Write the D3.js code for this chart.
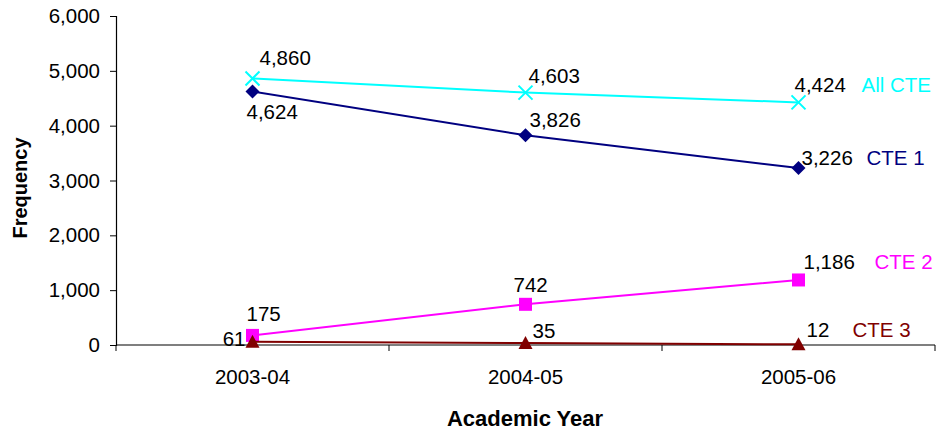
<!DOCTYPE html>
<html>
<head>
<meta charset="utf-8">
<script src="https://cdn.jsdelivr.net/npm/d3@7"></script>
<style>
  html, body { margin: 0; padding: 0; background: #fff; }
  svg { display: block; font-family: "Liberation Sans", Arial, sans-serif; }
</style>
</head>
<body>
<svg id="chart" width="937" height="432"></svg>
<script>
// Academic years on the x axis
const years = ["2003-04", "2004-05", "2005-06"];

// Frequency per year for each group
const allCte = [4860, 4603, 4424];
const cte1 = [4624, 3826, 3226];
const cte2 = [175, 742, 1186];
const cte3 = [61, 35, 12];

const seriesNames = ["All CTE", "CTE 1", "CTE 2", "CTE 3"];
const yTicks = [0, 1000, 2000, 3000, 4000, 5000, 6000];

const series = [
  { name: seriesNames[0], values: allCte, color: "#00FFFF", marker: "cross" },
  { name: seriesNames[1], values: cte1, color: "#000080", marker: "diamond" },
  { name: seriesNames[2], values: cte2, color: "#FF00FF", marker: "square" },
  { name: seriesNames[3], values: cte3, color: "#800000", marker: "triangle" }
];

// Placement of value labels around each point: [dx, dy, anchor]
const labelPlacement = {
  "All CTE": [[7, -13.5, "start"], [3, -10, "start"], [-4, -10, "start"]],
  "CTE 1":   [[-6, 27.5, "start"], [4, -8, "start"], [3, -3, "start"]],
  "CTE 2":   [[-6, -14, "start"], [-12, -12, "start"], [5, -11, "start"]],
  "CTE 3":   [[-7, 4.5, "end"], [7, -5, "start"], [8, -7, "start"]]
};
// Series name shown to the right of the final point: [dx, dy]
const namePlacement = {
  "All CTE": [63, -10],
  "CTE 1": [68, -3],
  "CTE 2": [76, -11],
  "CTE 3": [54, -7]
};

const svg = d3.select("#chart");
const plotLeft = 116, plotRight = 935, plotTop = 16, plotBottom = 345;

const x = d3.scaleBand().domain(years).range([plotLeft, plotRight]).padding(0);
const cx = d => x(d) + x.bandwidth() / 2;
const y = d3.scaleLinear().domain([0, 6000]).range([plotBottom, plotTop]);

const fmt = d3.format(",");

// Y axis
const yAxis = svg.append("g")
  .attr("transform", `translate(${plotLeft},0)`)
  .call(d3.axisLeft(y).tickValues(yTicks).tickFormat(fmt).tickSize(6).tickPadding(10));
yAxis.select(".domain").attr("stroke", "#000").attr("stroke-width", 1.2);
yAxis.selectAll(".tick line").attr("stroke", "#000");
yAxis.selectAll(".tick text").attr("font-size", 20.5).attr("fill", "#000")
  .attr("font-family", "Liberation Sans, Arial, sans-serif");

// X axis line at zero with tick marks at category boundaries
const xAxisG = svg.append("g");
xAxisG.append("line")
  .attr("x1", plotLeft).attr("x2", plotRight)
  .attr("y1", y(0)).attr("y2", y(0))
  .attr("stroke", "#000").attr("stroke-width", 1.2);
const boundaries = years.map(d => x(d)).concat([x(years[years.length - 1]) + x.bandwidth()]);
xAxisG.selectAll("line.xt").data(boundaries).enter().append("line")
  .attr("class", "xt")
  .attr("x1", d => d).attr("x2", d => d)
  .attr("y1", y(0)).attr("y2", y(0) + 6)
  .attr("stroke", "#000");
xAxisG.selectAll("text").data(years).enter().append("text")
  .attr("x", d => cx(d))
  .attr("y", 384)
  .attr("text-anchor", "middle")
  .attr("font-size", 20.5)
  .text(d => d);

// Axis titles
svg.append("text")
  .attr("x", 525).attr("y", 426)
  .attr("text-anchor", "middle")
  .attr("font-size", 22).attr("font-weight", "bold")
  .text("Academic Year");
svg.append("text")
  .attr("transform", "translate(27,188) rotate(-90)")
  .attr("text-anchor", "middle")
  .attr("font-size", 20).attr("font-weight", "bold")
  .text("Frequency");

const line = d3.line().x((v, i) => cx(years[i])).y(v => y(v));

function drawMarker(g, type, color) {
  if (type === "cross") {
    g.append("path").attr("d", "M-7,-7L7,7M-7,7L7,-7")
      .attr("stroke", color).attr("stroke-width", 2).attr("fill", "none");
  } else if (type === "diamond") {
    g.append("path").attr("d", "M0,-7L7,0L0,7L-7,0Z").attr("fill", color);
  } else if (type === "square") {
    g.append("rect").attr("x", -6.5).attr("y", -6.5).attr("width", 13).attr("height", 13).attr("fill", color);
  } else if (type === "triangle") {
    g.append("path").attr("d", "M0,-7L7,6L-7,6Z").attr("fill", color);
  }
}

series.forEach(s => {
  const g = svg.append("g");
  g.append("path")
    .datum(s.values)
    .attr("d", line)
    .attr("fill", "none")
    .attr("stroke", s.color)
    .attr("stroke-width", 2);
  s.values.forEach((v, i) => {
    const m = g.append("g").attr("transform", `translate(${cx(years[i])},${y(v)})`);
    drawMarker(m, s.marker, s.color);
  });
});

// Value labels and series names drawn above all lines
series.forEach(s => {
  s.values.forEach((v, i) => {
    const p = labelPlacement[s.name][i];
    svg.append("text")
      .attr("x", cx(years[i]) + p[0])
      .attr("y", y(v) + p[1])
      .attr("text-anchor", p[2])
      .attr("font-size", 20.5)
      .attr("fill", "#000")
      .text(fmt(v));
  });
  const last = s.values.length - 1;
  const np = namePlacement[s.name];
  svg.append("text")
    .attr("x", cx(years[last]) + np[0])
    .attr("y", y(s.values[last]) + np[1])
    .attr("font-size", 20.5)
    .attr("fill", s.color)
    .text(s.name);
});
</script>
</body>
</html>
